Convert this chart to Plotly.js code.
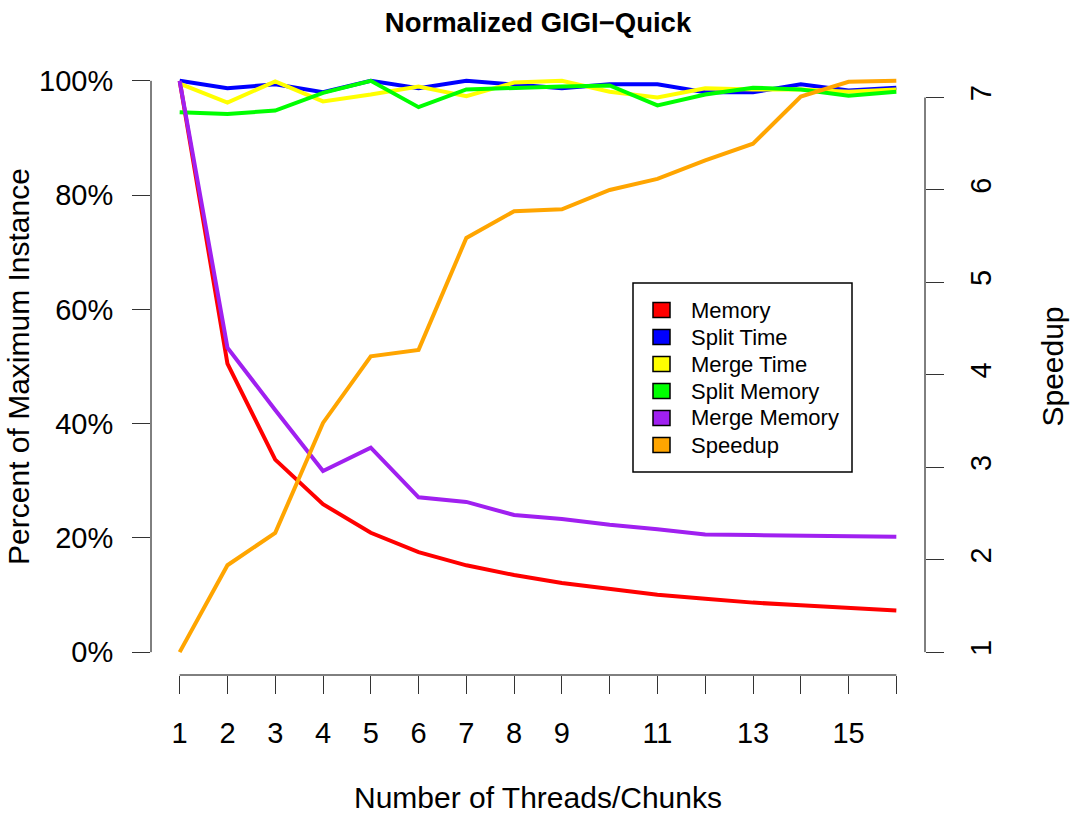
<!DOCTYPE html>
<html>
<head>
<meta charset="utf-8">
<script src="https://cdn.plot.ly/plotly-3.0.1.min.js"></script>
<style>html,body{margin:0;padding:0;background:#fff;}#chart{width:1070px;height:814px;}</style>
</head>
<body>
<div id="chart"></div>
<script>
// ---- data ----
const threads = [1,2,3,4,5,6,7,8,9,10,11,12,13,14,15,16];
const memory      = [100,50.5,33.7,25.9,20.9,17.5,15.2,13.5,12.1,11.0,10.05,9.35,8.67,8.2,7.8,7.3];
const splitTime   = [100,98.7,99.4,98.0,100,98.7,100,99.4,98.7,99.4,99.4,98.0,98.0,99.4,98.3,98.8];
const mergeTime   = [99.5,96.2,99.9,96.4,97.6,99.0,97.3,99.7,100,98.1,97.1,98.7,98.5,98.5,98.1,98.5];
const splitMemory = [94.5,94.2,94.8,97.9,100,95.4,98.5,98.8,99.0,99.2,95.7,97.6,98.8,98.5,97.4,98.1];
const mergeMemory = [100,53.3,42.4,31.7,35.8,27.1,26.3,24.0,23.3,22.3,21.5,20.6,20.5,20.4,20.35,20.2];
const speedup     = [1.0,1.94,2.29,3.48,4.20,4.27,5.48,5.77,5.79,6.00,6.12,6.32,6.50,7.01,7.17,7.18];

const seriesNames  = ["Memory","Split Time","Merge Time","Split Memory","Merge Memory","Speedup"];
const seriesColors = ["#FF0000","#0000FF","#FFFF00","#00FF00","#A020F0","#FFA500"];
const seriesValues = [memory, splitTime, mergeTime, splitMemory, mergeMemory, speedup];

const xTickVals  = threads;
const xTickText  = ["1","2","3","4","5","6","7","8","9","","11","","13","","15",""];
const yTickVals  = [0,20,40,60,80,100];
const yTickText  = ["0%","20%","40%","60%","80%","100%"];
const y2TickVals = [1,2,3,4,5,6,7];

// ---- layout geometry ----
const W = 1070, H = 814;
const L = 151, R = 925, T = 58, B = 675;
const pw = R - L, ph = B - T;
const px = v => (v - L) / pw;
const py = v => (B - v) / ph;

const FONT = "Liberation Sans, Arial, Helvetica, sans-serif";

const traces = seriesNames.map((name, i) => ({
  x: threads,
  y: seriesValues[i],
  type: "scatter",
  mode: "lines",
  name: name,
  yaxis: name === "Speedup" ? "y2" : "y",
  line: {color: seriesColors[i], width: 4},
  showlegend: false,
  hoverinfo: "x+y+name"
}));

const sMin = Math.min(...speedup), sMax = Math.max(...speedup);
const sPad = 0.04 * (sMax - sMin);

const shapes = [
  // axis lines (R style: only between end ticks)
  {type:"line", xref:"paper", yref:"y", x0:0, x1:0, y0:0, y1:100, line:{color:"#000", width:1}},
  {type:"line", xref:"paper", yref:"y2", x0:1, x1:1, y0:1, y1:7, line:{color:"#000", width:1}},
  {type:"line", xref:"x", yref:"paper", x0:1, x1:16, y0:0, y1:0, line:{color:"#000", width:1}},
  // legend box
  {type:"rect", xref:"paper", yref:"paper", x0:px(633), x1:px(852), y0:py(472), y1:py(283),
   line:{color:"#000", width:1.5}, fillcolor:"#fff", layer:"above"}
];
const annotations = [];
seriesNames.forEach((name, i) => {
  const cy = 310 + i * 27;
  shapes.push({type:"rect", xref:"paper", yref:"paper",
    x0:px(653), x1:px(670), y0:py(cy + 7.5), y1:py(cy - 7.5),
    line:{color:"#000", width:1.5}, fillcolor:seriesColors[i], layer:"above"});
  annotations.push({xref:"paper", yref:"paper", x:px(689), y:py(cy), text:name,
    showarrow:false, xanchor:"left", yanchor:"middle",
    font:{family:FONT, size:22, color:"#000"}});
});

const layout = {
  width: W, height: H,
  margin: {l:L, r:W - R, t:T, b:H - B, pad:0},
  paper_bgcolor:"#fff", plot_bgcolor:"#fff",
  showlegend:false,
  font:{family:FONT, color:"#000"},
  title:{text:"<b>Normalized GIGI\u2212Quick</b>", xref:"paper", x:0.5, xanchor:"center",
         yref:"container", y:1 - 22/H, yanchor:"middle",
         font:{family:FONT, size:27.5, color:"#000"}},
  xaxis:{range:[0.4,16.6], showgrid:false, zeroline:false, showline:false,
         tickmode:"array", tickvals:xTickVals, ticktext:xTickText,
         ticks:"outside", ticklen:18, tickcolor:"#333", tickwidth:1,
         ticklabelstandoff:14,
         tickfont:{family:FONT, size:29, color:"#000"},
         title:{text:"Number of Threads/Chunks", standoff:44,
                font:{family:FONT, size:30, color:"#000"}}},
  yaxis:{range:[-4,104], showgrid:false, zeroline:false, showline:false,
         tickmode:"array", tickvals:yTickVals, ticktext:yTickText,
         ticks:"outside", ticklen:18, tickcolor:"#333", tickwidth:1,
         ticklabelstandoff:13,
         tickfont:{family:FONT, size:29, color:"#000"},
         title:{text:"Percent of Maximum Instance", standoff:0,
                font:{family:FONT, size:30, color:"#000"}}},
  yaxis2:{range:[sMin - sPad, sMax + sPad], overlaying:"y", side:"right", anchor:"x",
          showgrid:false, zeroline:false, showline:false,
          tickmode:"array", tickvals:y2TickVals,
          ticks:"outside", ticklen:18, tickcolor:"#333", tickwidth:1,
          tickangle:-90, ticklabelstandoff:12,
          tickfont:{family:FONT, size:29, color:"#000"},
          title:{text:"Speedup", standoff:46,
                 font:{family:FONT, size:30, color:"#000"}}},
  shapes: shapes,
  annotations: annotations
};

Plotly.newPlot("chart", traces, layout, {displayModeBar:false, staticPlot:true});
</script>
</body>
</html>
